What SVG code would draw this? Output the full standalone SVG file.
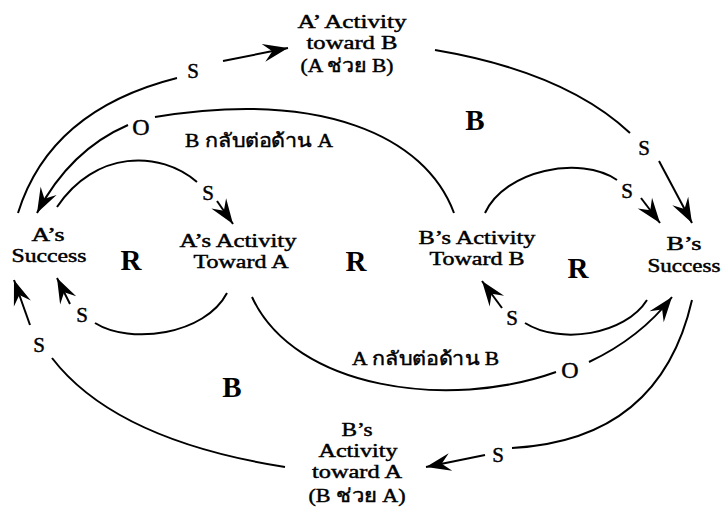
<svg xmlns="http://www.w3.org/2000/svg" width="724" height="511" viewBox="0 0 724 511">
  <defs>
    <marker id="arrow" markerWidth="28" markerHeight="22" viewBox="-27 -11 28 22" refX="0" refY="0" orient="auto" markerUnits="userSpaceOnUse">
      <path d="M0,0 L-25,-9 L-16,0 L-25,9 Z" fill="#000"/>
    </marker>
    <style>
      .t { font-family: "Liberation Serif", "DejaVu Serif", "Noto Sans", serif; font-size: 18.5px; fill: #000; stroke: #000; stroke-width: 0.45; text-anchor: middle; }
      .lbl { font-family: "Liberation Serif", "DejaVu Serif", serif; font-size: 21px; fill: #000; stroke: #000; stroke-width: 0.45; text-anchor: middle; }
      .o { font-family: "Liberation Serif", "DejaVu Serif", serif; font-size: 24px; fill: #000; stroke: #000; stroke-width: 0.45; text-anchor: middle; }
      .th { font-family: "Liberation Serif", "DejaVu Serif", "Noto Sans", serif; font-size: 19px; fill: #000; stroke: #000; stroke-width: 0.45; }
      .big { font-family: "Liberation Serif", serif; font-size: 29px; font-weight: bold; fill: #000; text-anchor: middle; }
      .c { fill: none; stroke: #000; stroke-width: 2; }
      .a { fill: none; stroke: #000; stroke-width: 2; marker-end: url(#arrow); }
    </style>
  </defs>
  <rect width="724" height="511" fill="#fff"/>

  <!-- connectors -->
  <g id="connectors">
    <!-- A's Success -> A' Activity toward B -->
    <path class="c" d="M18,213 Q50,110 177,78"/>
    <path class="a" d="M223,61 L288,48"/>
    <!-- A' Activity toward B -> B's Success -->
    <path class="c" d="M435,50 Q565,72 630,133"/>
    <path class="a" d="M659,161 L692,223"/>
    <!-- B's Activity Toward B -> A's Success (opposite) -->
    <path class="c" d="M454,213 C425,135 320,90 155,117"/>
    <path class="a" d="M128,125 Q70,150 37,213"/>
    <!-- A's Success -> A's Activity Toward A -->
    <path class="c" d="M197,182 C160,150 95,150 57,207"/>
    <path class="a" d="M217,201 L233,224"/>
    <!-- A's Activity Toward A -> A's Success -->
    <path class="c" d="M227,293 C205,335 130,345 95,323"/>
    <path class="a" d="M70,304 L57,278"/>
    <!-- B's Activity toward A -> A's Success -->
    <path class="c" d="M285,467 Q115,440 52,358"/>
    <path class="a" d="M30,325 L14,280"/>
    <!-- A's Activity Toward A -> B's Success (opposite) -->
    <path class="c" d="M252,297 C295,390 450,410 556,372"/>
    <path class="a" d="M589,362 Q640,338 672,297"/>
    <!-- B's Activity Toward B -> B's Success -->
    <path class="c" d="M485,213 C505,170 580,155 617,180"/>
    <path class="a" d="M641,198 L660,223"/>
    <!-- B's Success -> B's Activity Toward B -->
    <path class="c" d="M647,300 C625,335 560,345 525,323"/>
    <path class="a" d="M502,308 L482,281"/>
    <!-- B's Success -> B's Activity toward A -->
    <path class="c" d="M692,300 Q660,440 512,448"/>
    <path class="a" d="M485,455 L426,467"/>
  </g>

  <!-- link polarity labels -->
  <g id="labels">
    <text class="lbl" x="193" y="78">S</text>
    <text class="o" x="141" y="135">O</text>
    <text class="th" x="185" y="147" textLength="148" lengthAdjust="spacingAndGlyphs">B กลับต่อด้าน A</text>
    <text class="lbl" x="208" y="200">S</text>
    <text class="lbl" x="644" y="155">S</text>
    <text class="lbl" x="627" y="198">S</text>
    <text class="lbl" x="82" y="322">S</text>
    <text class="lbl" x="39" y="352">S</text>
    <text class="lbl" x="512" y="325">S</text>
    <text class="th" x="352" y="365" textLength="147" lengthAdjust="spacingAndGlyphs">A กลับต่อด้าน B</text>
    <text class="o" x="570" y="378">O</text>
    <text class="lbl" x="498" y="462">S</text>
  </g>

  <!-- loop markers -->
  <g id="loops">
    <text class="big" x="131" y="270">R</text>
    <text class="big" x="356" y="271">R</text>
    <text class="big" x="578" y="278">R</text>
    <text class="big" x="475" y="130">B</text>
    <text class="big" x="232" y="397">B</text>
  </g>

  <!-- nodes -->
  <g id="node-a-help-b">
    <text class="t" x="352" y="28" textLength="109" lengthAdjust="spacingAndGlyphs">A’ Activity</text>
    <text class="t" x="352" y="49" textLength="91" lengthAdjust="spacingAndGlyphs">toward B</text>
    <text class="t" x="347" y="72" textLength="93" lengthAdjust="spacingAndGlyphs">(A ช่วย B)</text>
  </g>
  <g id="node-a-success">
    <text class="t" x="48" y="241" textLength="33" lengthAdjust="spacingAndGlyphs">A’s</text>
    <text class="t" x="49" y="262" textLength="75" lengthAdjust="spacingAndGlyphs">Success</text>
  </g>
  <g id="node-a-activity">
    <text class="t" x="238" y="247" textLength="117" lengthAdjust="spacingAndGlyphs">A’s Activity</text>
    <text class="t" x="241" y="268" textLength="95" lengthAdjust="spacingAndGlyphs">Toward A</text>
  </g>
  <g id="node-b-activity">
    <text class="t" x="477" y="244" textLength="117" lengthAdjust="spacingAndGlyphs">B’s Activity</text>
    <text class="t" x="477" y="265" textLength="95" lengthAdjust="spacingAndGlyphs">Toward B</text>
  </g>
  <g id="node-b-success">
    <text class="t" x="684" y="250" textLength="35" lengthAdjust="spacingAndGlyphs">B’s</text>
    <text class="t" x="684" y="272" textLength="73" lengthAdjust="spacingAndGlyphs">Success</text>
  </g>
  <g id="node-b-help-a">
    <text class="t" x="357" y="436" textLength="31" lengthAdjust="spacingAndGlyphs">B’s</text>
    <text class="t" x="358" y="457" textLength="79" lengthAdjust="spacingAndGlyphs">Activity</text>
    <text class="t" x="357" y="478" textLength="90" lengthAdjust="spacingAndGlyphs">toward A</text>
    <text class="t" x="357" y="502" textLength="97" lengthAdjust="spacingAndGlyphs">(B ช่วย A)</text>
  </g>
</svg>
